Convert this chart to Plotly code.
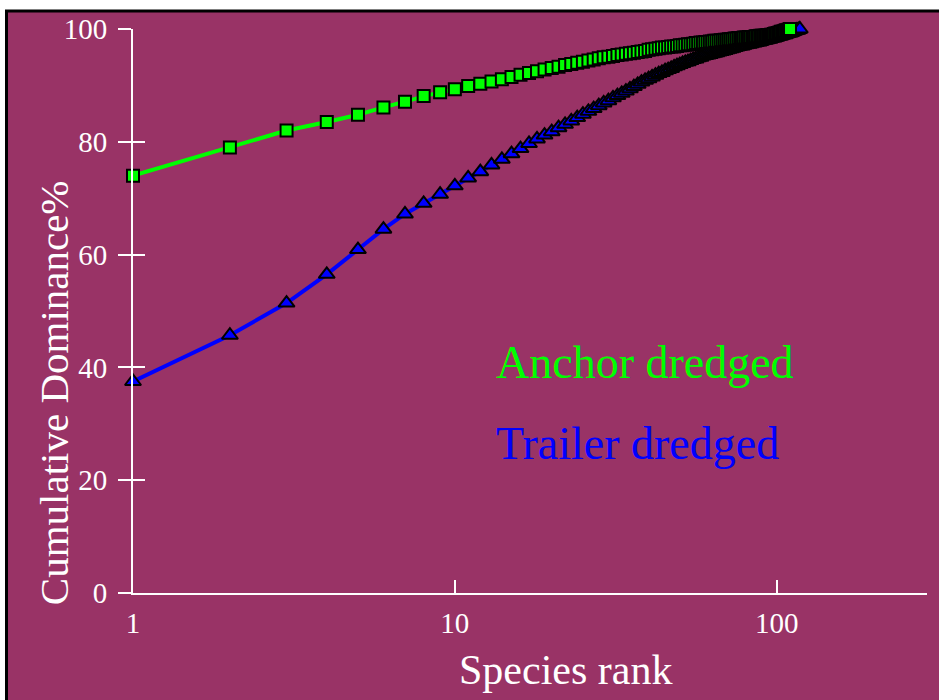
import plotly.graph_objects as go

# Cumulative dominance (%) by species rank
anchor_dredged = [
    74.0, 79.0, 82.0, 83.5, 84.8, 86.1, 87.1, 88.1, 88.8, 89.3,
    89.9, 90.3, 90.7, 91.1, 91.5, 91.9, 92.2, 92.5, 92.8, 93.1,
    93.3, 93.6, 93.8, 94.0, 94.2, 94.4, 94.6, 94.8, 95.0, 95.1,
    95.2, 95.4, 95.5, 95.6, 95.7, 95.8, 95.9, 96.0, 96.1, 96.3,
    96.4, 96.5, 96.6, 96.7, 96.7, 96.8, 96.9, 96.9, 97.0, 97.1,
    97.1, 97.2, 97.3, 97.3, 97.4, 97.5, 97.5, 97.6, 97.6, 97.7,
    97.7, 97.8, 97.8, 97.9, 97.9, 97.9, 98.0, 98.0, 98.1, 98.1,
    98.2, 98.2, 98.2, 98.3, 98.3, 98.4, 98.4, 98.4, 98.5, 98.5,
    98.5, 98.6, 98.6, 98.6, 98.6, 98.7, 98.7, 98.7, 98.8, 98.8,
    98.8, 98.8, 98.9, 98.9, 98.9, 99.0, 99.0, 99.1, 99.2, 99.2,
    99.3, 99.4, 99.5, 99.5, 99.6, 99.7, 99.8, 99.8, 99.9, 100.0,
]

trailer_dredged = [
    37.5, 45.7, 51.4, 56.5, 60.9, 64.5, 67.2, 69.1, 70.7, 72.2,
    73.6, 74.7, 75.9, 76.9, 77.9, 78.8, 79.7, 80.5, 81.2, 81.8,
    82.5, 83.1, 83.7, 84.3, 84.9, 85.4, 85.9, 86.4, 86.9, 87.3,
    87.8, 88.2, 88.6, 89.0, 89.4, 89.8, 90.2, 90.6, 90.9, 91.2,
    91.5, 91.8, 92.1, 92.3, 92.6, 92.8, 93.0, 93.3, 93.5, 93.7,
    93.9, 94.1, 94.2, 94.4, 94.6, 94.7, 94.9, 95.0, 95.2, 95.3,
    95.4, 95.5, 95.6, 95.7, 95.8, 95.9, 96.0, 96.1, 96.2, 96.3,
    96.4, 96.5, 96.6, 96.7, 96.8, 96.9, 97.0, 97.0, 97.1, 97.2,
    97.3, 97.3, 97.4, 97.5, 97.5, 97.6, 97.7, 97.7, 97.8, 97.9,
    98.0, 98.0, 98.1, 98.2, 98.2, 98.3, 98.4, 98.4, 98.5, 98.6,
    98.7, 98.7, 98.8, 98.9, 99.0, 99.0, 99.1, 99.2, 99.3, 99.3,
    99.4, 99.5, 99.6, 99.7, 99.8, 99.8, 99.9, 100.0,
]

anchor_rank = list(range(1, len(anchor_dredged) + 1))
trailer_rank = list(range(1, len(trailer_dredged) + 1))

x_tick_vals = [1, 10, 100]
x_tick_text = ["1", "10", "100"]
y_tick_vals = [0, 20, 40, 60, 80, 100]
y_tick_text = ["0", "20", "40", "60", "80", "100"]

BG = "#993366"
GREEN = "#00FF00"
BLUE = "#0000FF"
FONT = "Liberation Serif"

W, H = 939, 700
L, R, T, B = 133, 12, 28.5, 107
PW, PH = W - L - R, H - T - B


def px_x(p):
    return (p - L) / PW


def px_y(p):
    return (H - B - p) / PH


fig = go.Figure()

fig.add_trace(go.Scatter(
    x=trailer_rank, y=trailer_dredged, mode="lines+markers",
    line=dict(color=BLUE, width=4),
    marker=dict(symbol="triangle-up", size=14, color=BLUE,
                line=dict(color="black", width=2)),
    cliponaxis=False, showlegend=False,
))
fig.add_trace(go.Scatter(
    x=anchor_rank, y=anchor_dredged, mode="lines+markers",
    line=dict(color=GREEN, width=4),
    marker=dict(symbol="square", size=12, color=GREEN,
                line=dict(color="black", width=2)),
    cliponaxis=False, showlegend=False,
))
# empty trace carrying the inner tick marks of the value axis
fig.add_trace(go.Scatter(x=[], y=[], yaxis="y2", showlegend=False))

# panel background with black frame
fig.add_shape(type="rect", xref="paper", yref="paper",
              x0=px_x(6.5), x1=px_x(960), y0=px_y(720), y1=px_y(10.5),
              fillcolor=BG, line=dict(color="black", width=3), layer="below")

fig.add_annotation(text="Anchor dredged", xref="paper", yref="paper",
                   x=px_x(494), y=px_y(362), xanchor="left", yanchor="middle",
                   showarrow=False, font=dict(family=FONT, size=46, color=GREEN))
fig.add_annotation(text="Trailer dredged", xref="paper", yref="paper",
                   x=px_x(494), y=px_y(443), xanchor="left", yanchor="middle",
                   showarrow=False, font=dict(family=FONT, size=46, color=BLUE))
fig.add_annotation(text="Species rank", xref="paper", yref="paper",
                   x=px_x(565), y=px_y(670), xanchor="center", yanchor="middle",
                   showarrow=False, font=dict(family=FONT, size=42, color="white"))
fig.add_annotation(text="Cumulative Dominance%", xref="paper", yref="paper",
                   x=px_x(54), y=px_y(393), xanchor="center", yanchor="middle",
                   textangle=-90, showarrow=False,
                   font=dict(family=FONT, size=41, color="white"))

fig.update_layout(
    width=W, height=H,
    margin=dict(l=L, r=R, t=T, b=B),
    paper_bgcolor="white",
    plot_bgcolor="rgba(0,0,0,0)",
    font=dict(family=FONT, color="white"),
    xaxis=dict(
        type="log", range=[0, 2.467],
        tickvals=x_tick_vals, ticktext=x_tick_text,
        ticks="inside", ticklen=13, tickwidth=2, tickcolor="white",
        showline=True, linecolor="white", linewidth=2,
        showgrid=False, zeroline=False,
        tickfont=dict(family=FONT, size=29, color="white"),
        ticklabelstandoff=3,
    ),
    yaxis=dict(
        range=[0, 100],
        tickvals=y_tick_vals, ticktext=y_tick_text,
        ticks="outside", ticklen=13, tickwidth=2, tickcolor="white",
        showline=True, linecolor="white", linewidth=2,
        showgrid=False, zeroline=False,
        tickfont=dict(family=FONT, size=29, color="white"),
        ticklabelstandoff=5,
    ),
    yaxis2=dict(
        overlaying="y", anchor="x", side="left",
        range=[0, 100], tickvals=y_tick_vals,
        ticks="inside", ticklen=12, tickwidth=2, tickcolor="white",
        showticklabels=False, showline=False,
        showgrid=False, zeroline=False,
    ),
)

fig.write_html("out.html")
